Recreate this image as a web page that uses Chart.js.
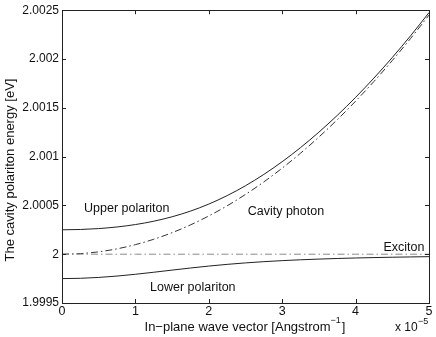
<!DOCTYPE html>
<html>
<head>
<meta charset="utf-8">
<script src="https://cdn.jsdelivr.net/npm/chart.js@4"></script>
<style>
  html, body { margin: 0; padding: 0; background: #fff; }
  #wrap { width: 436px; height: 337px; }
</style>
</head>
<body>
<div id="wrap"><canvas id="chart" width="436" height="337"></canvas></div>
<script>
// wave vector, in units of 1e-5 1/Angstrom
const waveVector = [0, 0.25, 0.5, 0.75, 1, 1.25, 1.5, 1.75, 2, 2.25, 2.5, 2.75, 3, 3.25, 3.5, 3.75, 4, 4.25, 4.5, 4.75, 5];

// energies [eV]
const upperPolariton = [2.0002500, 2.0002531, 2.0002626, 2.0002791, 2.0003038, 2.0003380, 2.0003835, 2.0004416, 2.0005137, 2.0006002, 2.0007016, 2.0008176, 2.0009479, 2.0010923, 2.0012505, 2.0014221, 2.0016069, 2.0018048, 2.0020155, 2.0022390, 2.0024753];
const lowerPolariton = [1.9997500, 1.9997530, 1.9997620, 1.9997761, 1.9997942, 1.9998151, 1.9998370, 1.9998585, 1.9998783, 1.9998959, 1.9999109, 1.9999235, 1.9999341, 1.9999428, 1.9999500, 1.9999560, 1.9999611, 1.9999654, 1.9999690, 1.9999721, 1.9999747];
const cavityPhoton = [2.0000000, 2.0000061, 2.0000245, 2.0000551, 2.0000980, 2.0001531, 2.0002205, 2.0003001, 2.0003920, 2.0004961, 2.0006125, 2.0007411, 2.0008820, 2.0010351, 2.0012005, 2.0013781, 2.0015680, 2.0017701, 2.0019845, 2.0022111, 2.0024500];
const exciton = [2, 2, 2, 2, 2, 2, 2, 2, 2, 2, 2, 2, 2, 2, 2, 2, 2, 2, 2, 2, 2];

const xTicks = [0, 1, 2, 3, 4, 5];
const yTicks = [1.9995, 2, 2.0005, 2.001, 2.0015, 2.002, 2.0025];
const yTickLabels = ['1.9995', '2', '2.0005', '2.001', '2.0015', '2.002', '2.0025'];

const FONT = 'Liberation Sans, Arial, Helvetica, sans-serif';

function pts(ys) {
    return waveVector.map((x, i) => ({ x: x, y: ys[i] }));
}

// curve labels, placed in data coordinates
const curveLabels = [
    { text: 'Upper polariton', x: 0.3, y: 2.00047 },
    { text: 'Cavity photon', x: 2.53, y: 2.00044 },
    { text: 'Exciton', x: 4.38, y: 2.000065 },
    { text: 'Lower polariton', x: 1.2, y: 1.99966 }
];

// MATLAB-like frame: box, inward ticks, labels and exponent
const framePlugin = {
    id: 'frame',
    afterDraw(chart) {
        const ctx = chart.ctx;
        const a = chart.chartArea;
        const xs = chart.scales.x;
        const ys = chart.scales.y;
        ctx.save();
        ctx.strokeStyle = '#222';
        ctx.lineWidth = 1;
        ctx.strokeRect(Math.round(a.left) + 0.5, Math.round(a.top) + 0.5,
            Math.round(a.right - a.left), Math.round(a.bottom - a.top));
        ctx.beginPath();
        xTicks.forEach(v => {
            const px = Math.round(xs.getPixelForValue(v)) + 0.5;
            ctx.moveTo(px, a.bottom); ctx.lineTo(px, a.bottom - 4);
            ctx.moveTo(px, a.top); ctx.lineTo(px, a.top + 4);
        });
        yTicks.forEach(v => {
            const py = Math.round(ys.getPixelForValue(v)) + 0.5;
            ctx.moveTo(a.left, py); ctx.lineTo(a.left + 4, py);
            ctx.moveTo(a.right, py); ctx.lineTo(a.right - 4, py);
        });
        ctx.stroke();

        ctx.fillStyle = '#111';
        ctx.font = '12.5px ' + FONT;
        ctx.textBaseline = 'middle';
        ctx.textAlign = 'left';
        curveLabels.forEach(l => {
            ctx.fillText(l.text, xs.getPixelForValue(l.x), ys.getPixelForValue(l.y));
        });

        // x axis title with superscript
        const t1 = 'In\u2212plane wave vector [Angstrom';
        ctx.font = '13px ' + FONT;
        const w1 = ctx.measureText(t1).width;
        ctx.font = '9px ' + FONT;
        const w2 = ctx.measureText('\u22121').width;
        ctx.font = '13px ' + FONT;
        const w3 = ctx.measureText(']').width;
        let x0 = 245 - (w1 + w2 + w3 + 1) / 2;
        ctx.fillText(t1, x0, 327);
        ctx.font = '9px ' + FONT;
        ctx.fillText('\u22121', x0 + w1, 321);
        ctx.font = '13px ' + FONT;
        ctx.fillText(']', x0 + w1 + w2 + 1, 327);

        ctx.font = '12px ' + FONT;
        ctx.fillText('x 10', 395, 328);
        ctx.font = '9px ' + FONT;
        ctx.fillText('\u22125', 418, 322);

        ctx.font = '13px ' + FONT;
        ctx.translate(10, 170);
        ctx.rotate(-Math.PI / 2);
        ctx.textAlign = 'center';
        ctx.fillText('The cavity polariton energy [eV]', 0, 0);
        ctx.restore();
    }
};

const ctx = document.getElementById('chart').getContext('2d');
const chart = new Chart(ctx, {
    type: 'line',
    data: {
        datasets: [
            { label: 'Exciton', data: pts(exciton), borderColor: '#8a8a8a', borderDash: [7, 3, 1.5, 3] },
            { label: 'Cavity photon', data: pts(cavityPhoton), borderColor: '#333', borderDash: [7, 3, 1.5, 3] },
            { label: 'Upper polariton', data: pts(upperPolariton), borderColor: '#222' },
            { label: 'Lower polariton', data: pts(lowerPolariton), borderColor: '#222' }
        ]
    },
    options: {
        responsive: false,
        animation: false,
        parsing: false,
        layout: { padding: { left: 0, right: 7, top: 10, bottom: 0 } },
        elements: {
            point: { radius: 0 },
            line: { borderWidth: 1, tension: 0.4, cubicInterpolationMode: 'monotone', fill: false }
        },
        plugins: {
            legend: { display: false },
            tooltip: { enabled: false }
        },
        scales: {
            x: {
                type: 'linear',
                min: 0,
                max: 5,
                grid: { display: false, drawTicks: false },
                border: { display: false },
                afterBuildTicks: s => { s.ticks = xTicks.map(v => ({ value: v })); },
                afterFit: s => { s.height = 34; },
                ticks: {
                    color: '#111',
                    font: { family: FONT, size: 12.5 },
                    padding: 1,
                    maxRotation: 0,
                    callback: v => String(v)
                }
            },
            y: {
                type: 'linear',
                min: 1.9995,
                max: 2.0025,
                grid: { display: false, drawTicks: false },
                border: { display: false },
                afterBuildTicks: s => { s.ticks = yTicks.map(v => ({ value: v })); },
                afterFit: s => { s.width = 62; },
                ticks: {
                    color: '#111',
                    font: { family: FONT, size: 12 },
                    padding: 3,
                    callback: (v, i) => yTickLabels[i]
                }
            }
        }
    },
    plugins: [framePlugin]
});
</script>
</body>
</html>
